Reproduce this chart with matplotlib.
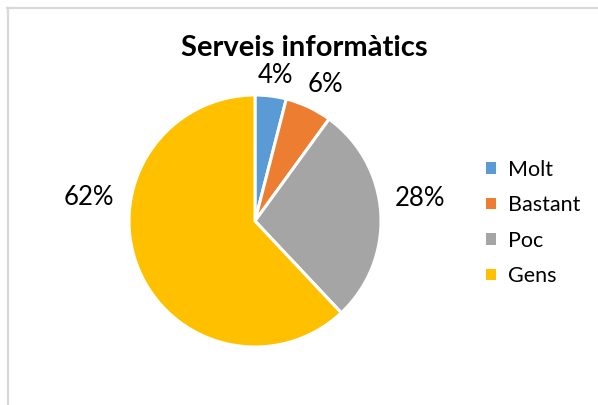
import numpy as np
import matplotlib
matplotlib.use("Agg")
import matplotlib.pyplot as plt
from matplotlib.patches import Patch
from matplotlib.lines import Line2D

# Survey answers for "Serveis informàtics"
categories = ["Molt", "Bastant", "Poc", "Gens"]
values = [4, 6, 28, 62]
colors = ["#5B9BD5", "#ED7D31", "#A5A5A5", "#FFC000"]
title = "Serveis informàtics"

plt.rcParams["font.family"] = ["Lato", "DejaVu Sans"]

W, H = 598, 405
fig = plt.figure(figsize=(W / 100, H / 100), dpi=100)
fig.patch.set_facecolor("white")

# Chart frame (only left and top edges are inside the canvas)
frame_col = "#D9D9D9"
fig.add_artist(Line2D([7.5 / W, 7.5 / W], [0, 1 - 7.5 / H], transform=fig.transFigure,
                      color=frame_col, lw=1.6))
fig.add_artist(Line2D([6.7 / W, 1], [1 - 7.5 / H, 1 - 7.5 / H], transform=fig.transFigure,
                      color=frame_col, lw=1.6))

# Pie axes: centre (255, 221) px, radius 126 px
cx, cy, r = 255, 221, 126
ax = fig.add_axes([(cx - r) / W, (H - cy - r) / H, 2 * r / W, 2 * r / H])
wedges, _ = ax.pie(values, colors=colors, startangle=90, counterclock=False,
                   wedgeprops=dict(edgecolor="white", linewidth=2.2))
ax.set_xlim(-1, 1)
ax.set_ylim(-1, 1)
ax.set_aspect("equal")
ax.axis("off")

# Data labels (angle in degrees, distance in radii)
label_pos = [(82.0, 1.17), (62.6, 1.22), (7.9, 1.32), (171.8, 1.33)]
for v, (ang, dist) in zip(values, label_pos):
    a = np.deg2rad(ang)
    ax.text(dist * np.cos(a), dist * np.sin(a), f"{v:.0f}%", ha="center", va="center",
            fontsize=18.5, color="#000000", clip_on=False)

fig.text(304 / W, 1 - 48 / H, title, ha="center", va="center",
         fontsize=21, fontweight="bold", color="#000000")

handles = [Patch(facecolor=c, edgecolor="none") for c in colors]
fig.legend(handles, categories, loc="center left", bbox_to_anchor=(486 / W, 1 - 223 / H),
           frameon=False, fontsize=15.5, handlelength=0.45, handleheight=0.45,
           handletextpad=0.55, labelspacing=0.72, borderpad=0, borderaxespad=0)

fig.savefig("out.png", dpi=100, facecolor="white")
